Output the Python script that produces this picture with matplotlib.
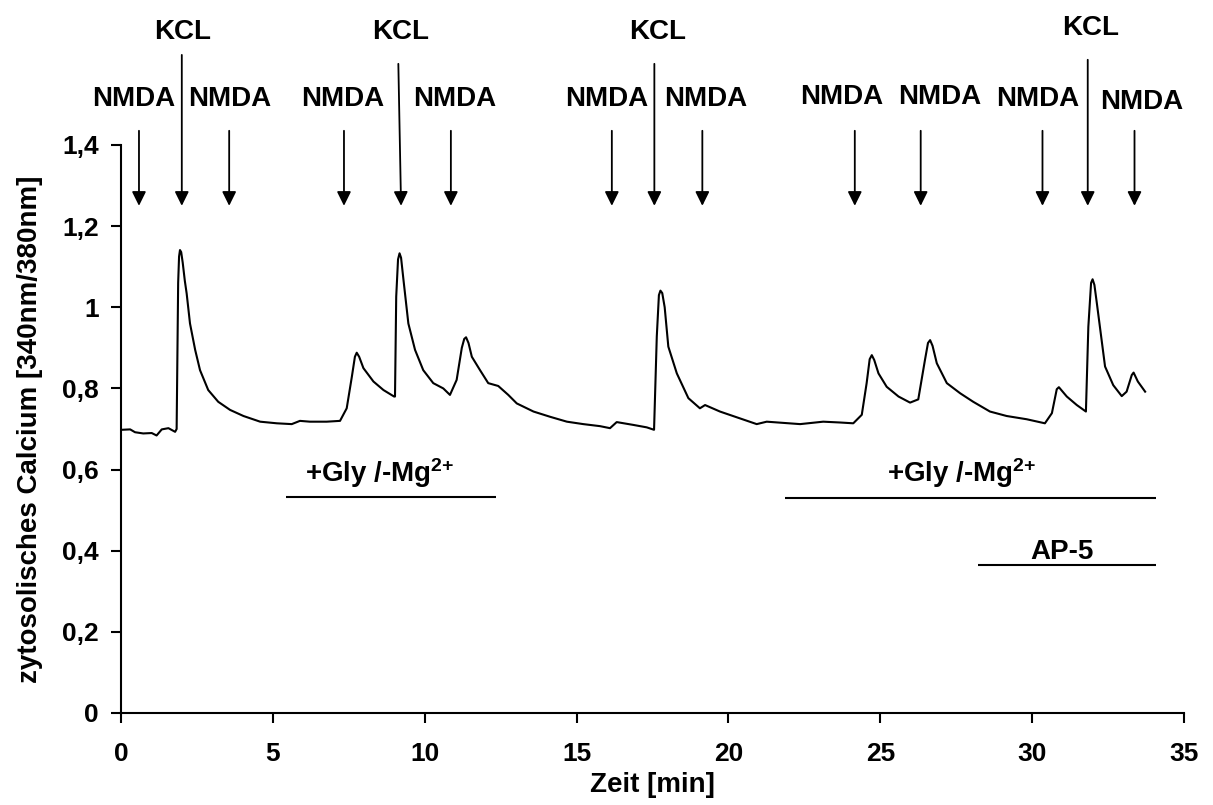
import matplotlib
matplotlib.use("Agg")
import matplotlib.pyplot as plt
from matplotlib.ticker import FuncFormatter

plt.rcParams['font.family'] = ['Liberation Sans', 'DejaVu Sans']
plt.rcParams['font.weight'] = 'bold'
plt.rcParams['mathtext.fontset'] = 'custom'
plt.rcParams['mathtext.rm'] = 'Liberation Sans:bold'
plt.rcParams['mathtext.bf'] = 'Liberation Sans:bold'
plt.rcParams['mathtext.default'] = 'bf'

# ---- trace ----
zeit = [0.02, 0.30, 0.46, 0.73, 1.01, 1.17, 1.34, 1.56, 1.78, 1.83, 1.88, 1.91, 1.94,
        1.98, 2.03, 2.10, 2.16, 2.27, 2.44, 2.60, 2.87, 3.20, 3.59, 4.03, 4.58, 5.13,
        5.62, 5.89, 6.22, 6.77, 7.21, 7.43, 7.60, 7.70, 7.76, 7.84, 7.98, 8.31, 8.64,
        8.99, 9.02, 9.06, 9.12, 9.17, 9.22, 9.30, 9.46, 9.68, 9.95, 10.28, 10.61, 10.83,
        11.05, 11.22, 11.30, 11.36, 11.44, 11.55, 11.82, 12.09, 12.42, 12.75, 13.03, 13.58,
        14.13, 14.68, 15.22, 15.77, 16.10, 16.32, 16.87, 17.31, 17.55, 17.64, 17.71, 17.76,
        17.82, 17.90, 18.02, 18.30, 18.68, 19.06, 19.23, 19.72, 20.38, 20.93, 21.26, 22.36,
        23.12, 23.67, 24.11, 24.39, 24.55, 24.65, 24.72, 24.80, 24.94, 25.21, 25.60, 25.98,
        26.25, 26.47, 26.57, 26.64, 26.72, 26.86, 27.19, 27.63, 28.06, 28.61, 29.16, 29.82,
        30.42, 30.65, 30.81, 30.88, 31.14, 31.47, 31.77, 31.85, 31.94, 31.99, 32.05, 32.13,
        32.40, 32.67, 32.95, 33.11, 33.28, 33.34, 33.48, 33.72]
calcium = [0.698, 0.699, 0.692, 0.689, 0.690, 0.684, 0.699, 0.702, 0.693, 0.700, 1.060, 1.125, 1.141,
           1.136, 1.110, 1.065, 1.034, 0.960, 0.895, 0.845, 0.796, 0.767, 0.747, 0.732, 0.718, 0.714,
           0.712, 0.720, 0.718, 0.718, 0.720, 0.751, 0.829, 0.878, 0.888, 0.878, 0.850, 0.817, 0.796,
           0.780, 0.780, 1.026, 1.118, 1.133, 1.122, 1.067, 0.960, 0.895, 0.845, 0.813, 0.800, 0.784,
           0.821, 0.900, 0.922, 0.926, 0.912, 0.878, 0.845, 0.813, 0.806, 0.784, 0.763, 0.743,
           0.730, 0.718, 0.712, 0.707, 0.702, 0.717, 0.710, 0.704, 0.698, 0.928, 1.030, 1.041,
           1.035, 1.000, 0.903, 0.837, 0.776, 0.751, 0.759, 0.743, 0.726, 0.712, 0.718, 0.712,
           0.718, 0.716, 0.714, 0.735, 0.813, 0.872, 0.882, 0.870, 0.837, 0.804, 0.780, 0.765,
           0.773, 0.870, 0.912, 0.919, 0.905, 0.862, 0.813, 0.788, 0.767, 0.743, 0.732, 0.724,
           0.714, 0.739, 0.798, 0.803, 0.780, 0.759, 0.743, 0.952, 1.060, 1.069, 1.055, 1.010,
           0.854, 0.808, 0.781, 0.792, 0.833, 0.839, 0.817, 0.792]

# ---- application arrows ----
nmda_x = [0.59, 3.56, 7.34, 10.86, 16.16, 19.14, 24.16, 26.33, 30.34, 33.37]
nmda_label_x = [0.40, 3.59, 7.31, 11.00, 16.00, 19.25, 23.72, 26.96, 30.19, 33.61]
nmda_label_y = [1.513, 1.513, 1.513, 1.513, 1.513, 1.513, 1.518, 1.518, 1.513, 1.507]
kcl_top_x = [2.00, 9.13, 17.56, 31.83]
kcl_tip_x = [2.00, 9.22, 17.56, 31.83]
kcl_top_y = [1.622, 1.600, 1.600, 1.610]
kcl_label_x = [2.02, 9.22, 17.66, 31.91]
kcl_label_y = [1.679, 1.679, 1.679, 1.689]
arrow_tip_y = 1.25
nmda_top_y = 1.435

# ---- treatment bars ----
bar_labels = ['+Gly /-Mg$^{2{+}}$', '+Gly /-Mg$^{2{+}}$', 'AP-5']
bar_start = [5.44, 21.86, 28.22]
bar_end = [12.35, 34.08, 34.08]
bar_y = [0.532, 0.531, 0.365]
bar_label_x = [8.53, 27.69, 30.98]
bar_label_y = [0.592, 0.592, 0.397]

fig = plt.figure(figsize=(12.13, 8.05), dpi=100)
ax = fig.add_axes([0.0998, 0.1143, 0.8763, 0.7056])

ax.plot(zeit, calcium, color='black', lw=1.5)

arrow_style = dict(arrowstyle='-|>,head_length=0.85,head_width=0.42', color='black',
                   lw=1.3, shrinkA=0, shrinkB=0, mutation_scale=10)
for x in nmda_x:
    ax.annotate('', xy=(x, arrow_tip_y), xytext=(x, nmda_top_y),
                arrowprops=arrow_style, annotation_clip=False)
for x0, x1, y0 in zip(kcl_top_x, kcl_tip_x, kcl_top_y):
    ax.annotate('', xy=(x1, arrow_tip_y), xytext=(x0, y0),
                arrowprops=arrow_style, annotation_clip=False)
for x, y in zip(nmda_label_x, nmda_label_y):
    ax.text(x, y, 'NMDA', ha='center', va='center', fontsize=20,
            fontweight='bold', clip_on=False)
for x, y in zip(kcl_label_x, kcl_label_y):
    ax.text(x, y, 'KCL', ha='center', va='center', fontsize=20,
            fontweight='bold', clip_on=False)

for lab, xs, xe, y, lx, ly in zip(bar_labels, bar_start, bar_end, bar_y,
                                   bar_label_x, bar_label_y):
    ax.plot([xs, xe], [y, y], color='black', lw=1.5, solid_capstyle='butt')
    ax.text(lx, ly, lab, ha='center', va='center', fontsize=20, fontweight='bold')

ax.set_xlim(0, 35)
ax.set_ylim(0, 1.4)
ax.set_xticks(range(0, 36, 5))
ax.set_yticks([0, 0.2, 0.4, 0.6, 0.8, 1.0, 1.2, 1.4])
ax.yaxis.set_major_formatter(FuncFormatter(lambda v, p: f'{v:g}'.replace('.', ',')))
ax.tick_params(direction='out', length=7, width=1.5, labelsize=19, pad=9)
ax.tick_params(axis='x', pad=14)
for s in ['top', 'right']:
    ax.spines[s].set_visible(False)
for s in ['left', 'bottom']:
    ax.spines[s].set_linewidth(1.5)

ax.set_xlabel('Zeit [min]', fontsize=20, fontweight='bold', labelpad=4)
ax.set_ylabel('zytosolisches Calcium [340nm/380nm]', fontsize=20,
              fontweight='bold', labelpad=14)

fig.savefig('out.png', dpi=100)
